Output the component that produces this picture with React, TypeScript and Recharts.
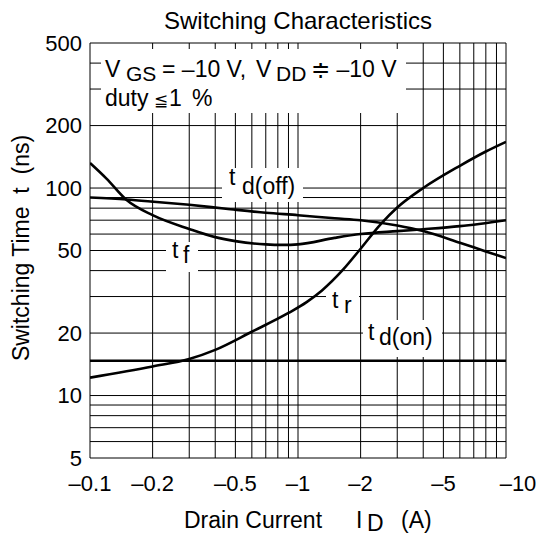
import React from "react";
import { LineChart, Line, XAxis, YAxis, ReferenceLine } from "recharts";

const FONT = '"Liberation Sans", Arial, Helvetica, sans-serif';

// drain current |I_D| in A (plotted as negative labels), switching time in ns
const currentTicks = [0.1, 0.2, 0.5, 1, 2, 5, 10];
const timeTicks = [5, 10, 20, 50, 100, 200, 500];
const currentGrid = [0.1, 0.2, 0.3, 0.4, 0.5, 0.6, 0.7, 0.8, 0.9, 1, 2, 3, 4, 5, 6, 7, 8, 9, 10];
const timeGrid = [5, 6, 7, 8, 9, 10, 20, 30, 40, 50, 60, 70, 80, 90, 100, 200, 300, 400, 500];

const tdOffCurrent = [0.1, 0.15, 0.2, 0.3, 0.45, 0.7, 1, 1.5, 2, 3, 4, 6, 8, 10];
const tdOffTime = [90, 88, 86, 83, 79.5, 76, 74, 71.5, 70, 66, 62, 54.5, 49.5, 46];

const tfCurrent = [0.1, 0.12, 0.15, 0.2, 0.3, 0.4, 0.5, 0.7, 0.85, 1, 1.5, 2, 3, 4, 6, 10];
const tfTime = [132, 111, 87.5, 74, 63.5, 58, 55.5, 53.5, 53.2, 53.5, 57.5, 60, 62, 63.3, 65.5, 70];

const trCurrent = [0.1, 0.2, 0.3, 0.4, 0.6, 0.9, 1.1, 1.3, 1.65, 2, 2.5, 3, 4, 6, 8, 10];
const trTime = [12.2, 13.8, 15, 16.6, 20.3, 25, 28.2, 32, 40.5, 51, 67, 80.5, 100, 128, 150, 167];

const tdOnCurrent = [0.1, 10];
const tdOnTime = [14.7, 14.7];

const toPoints = (xs: number[], ys: number[]) => xs.map((x, i) => ({ current: x, time: ys[i] }));

const CurrentTick = (props: any) => {
  const { x, y, payload } = props;
  const shift = payload.value === 10 ? 12 : 0;
  return (
    <text x={x + shift} y={y} dy="0.71em" textAnchor="middle" fontSize={22} fontFamily={FONT} fill="#000">
      {"\u2013" + payload.value}
    </text>
  );
};

export default function App() {
  return (
    <div style={{ position: "absolute", left: 0, top: 0, width: 544, height: 535, background: "#fff" }}>
      <LineChart width={544} height={535} margin={{ top: 43, right: 38, bottom: 37, left: 30 }}>
        <XAxis
          dataKey="current"
          type="number"
          scale="log"
          domain={[0.1, 10]}
          ticks={currentTicks}
          allowDataOverflow
          axisLine={false}
          tickLine={false}
          tickMargin={11}
          height={40}
          tick={<CurrentTick />}
        />
        <YAxis
          dataKey="time"
          type="number"
          scale="log"
          domain={[5, 500]}
          ticks={timeTicks}
          allowDataOverflow
          axisLine={false}
          tickLine={false}
          width={60}
          tick={{ fontSize: 22, fill: "#000", fontFamily: FONT }}
        />
        {currentGrid.map((v) => (
          <ReferenceLine key={"x" + v} x={v} stroke="#000" strokeWidth={1} ifOverflow="visible" />
        ))}
        {timeGrid.map((v) => (
          <ReferenceLine key={"y" + v} y={v} stroke="#000" strokeWidth={1} ifOverflow="visible" />
        ))}
        <Line data={toPoints(tdOffCurrent, tdOffTime)} dataKey="time" type="monotone" stroke="#000" strokeWidth={2.6} dot={false} isAnimationActive={false} />
        <Line data={toPoints(tfCurrent, tfTime)} dataKey="time" type="monotone" stroke="#000" strokeWidth={2.6} dot={false} isAnimationActive={false} />
        <Line data={toPoints(trCurrent, trTime)} dataKey="time" type="monotone" stroke="#000" strokeWidth={2.6} dot={false} isAnimationActive={false} />
        <Line data={toPoints(tdOnCurrent, tdOnTime)} dataKey="time" type="linear" stroke="#000" strokeWidth={2.6} dot={false} isAnimationActive={false} />
      </LineChart>

      <svg width={544} height={535} style={{ position: "absolute", left: 0, top: 0, pointerEvents: "none" }} fontFamily={FONT} fill="#000">
        <text x={298} y={29} textAnchor="middle" fontSize={24}>Switching Characteristics</text>

        <text transform="translate(29,248) rotate(-90)" textAnchor="middle" fontSize={23} style={{ whiteSpace: "pre" }}>
          {"Switching Time  t  (ns)"}
        </text>

        <text y={528} fontSize={23}>
          <tspan x={184}>Drain Current</tspan>
          <tspan x={356}>I</tspan>
          <tspan x={367} dy={3}>D</tspan>
          <tspan x={401} dy={-3}>(A)</tspan>
        </text>

        {/* conditions box */}
        <rect x={101} y={49} width={305} height={64} fill="#fff" />
        <text y={77} fontSize={23}>
          <tspan x={105}>V</tspan>
          <tspan x={126} dy={4} fontSize={21}>GS</tspan>
          <tspan x={162} dy={-4}>= {"\u2013"}10 V,</tspan>
          <tspan x={256}>V</tspan>
          <tspan x={276} dy={4} fontSize={21}>DD</tspan>
          <tspan x={311} dy={-4}>{"\u2251 \u2013"}10 V</tspan>
        </text>
        <text y={106} fontSize={23}>
          <tspan x={105}>duty</tspan>
          <tspan x={154} fontSize={17}>{"\u2266"}</tspan>
          <tspan x={169}>1</tspan>
          <tspan x={192}>%</tspan>
        </text>

        {/* curve labels */}
        <rect x={222} y={168} width={81} height={34} fill="#fff" />
        <text fontSize={23}>
          <tspan x={229} y={185}>t</tspan>
          <tspan x={242} y={194}>d(off)</tspan>
        </text>

        <rect x={166} y={242} width={32} height={30} fill="#fff" />
        <text fontSize={23}>
          <tspan x={172} y={258}>t</tspan>
          <tspan x={183} y={263}>f</tspan>
        </text>

        <rect x={326} y={291} width={33} height={27} fill="#fff" />
        <text fontSize={23}>
          <tspan x={332} y={308}>t</tspan>
          <tspan x={344} y={313}>r</tspan>
        </text>

        <rect x={363} y={320} width={79} height={37} fill="#fff" />
        <text fontSize={23}>
          <tspan x={368} y={340}>t</tspan>
          <tspan x={379} y={345}>d(on)</tspan>
        </text>
      </svg>
    </div>
  );
}
